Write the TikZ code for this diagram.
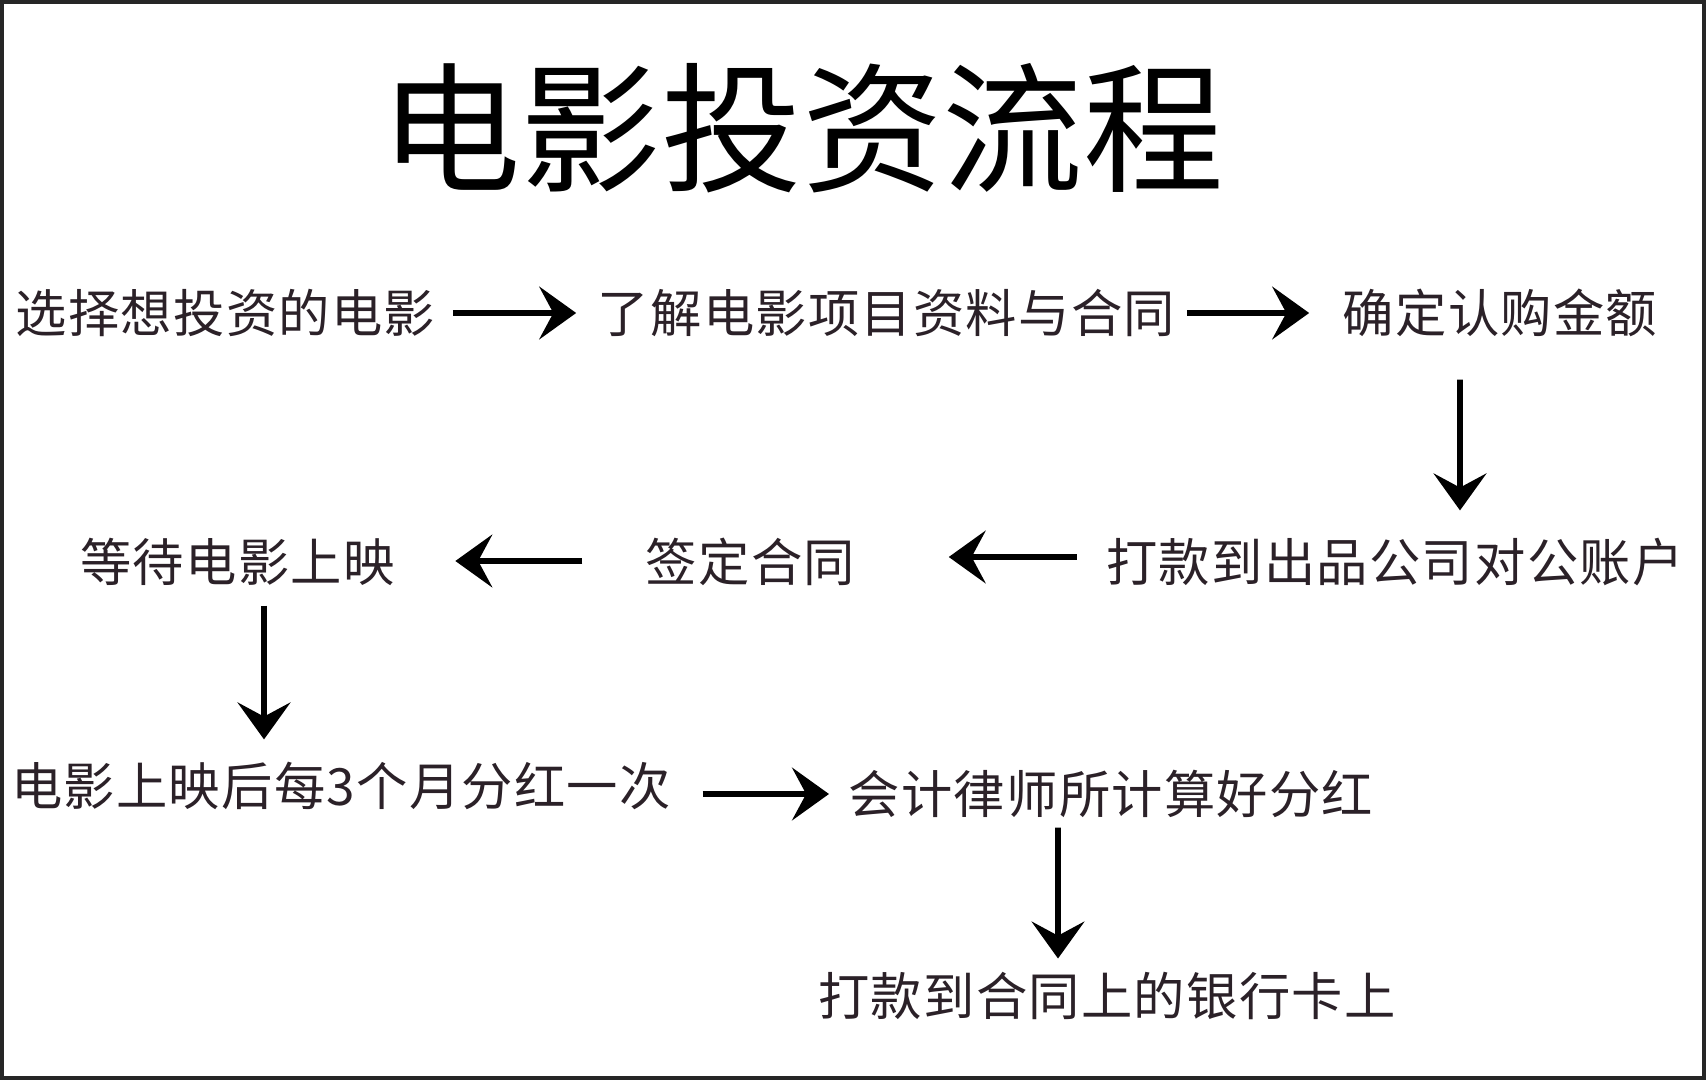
\documentclass[tikz,border=0pt]{standalone}
\usepackage{fontspec}
\newfontfamily\cjk{Noto Sans CJK SC}
\newfontfamily\cjkwide[LetterSpace=2.5]{Noto Sans CJK SC}
\usepackage{tikz}
\usetikzlibrary{positioning,arrows.meta,calc}

\definecolor{inkdark}{HTML}{2B2128}
\tikzset{
  stage/.style={inner sep=0pt, text=inkdark, font=\cjkwide\fontsize{14.6}{16}\selectfont},
  flow/.style={line width=1.6pt, -{Stealth[length=10.5pt,width=15pt,inset=4pt]}},
}

\begin{document}
\begin{tikzpicture}
  \useasboundingbox (0,0) rectangle (17.06,-10.80);
  \draw[line width=1.2pt, black!85] (0.02,-0.02) rectangle (17.04,-10.78);

  \node[inner sep=0pt, font=\cjk\fontsize{40}{43}\selectfont] (title) at (8.02,-1.28) {电影投资流程};

  % first row
  \node[stage] (pick) at (2.255,-3.13) {选择想投资的电影};
  \node[stage] (learn) at (8.865,-3.13) {了解电影项目资料与合同};
  \node[stage] (amount) at (15.00,-3.13) {确定认购金额};
  % second row, right to left
  \node[stage] (transfer) at (13.95,-5.62) {打款到出品公司对公账户};
  \node[stage] (sign) at (7.505,-5.62) {签定合同};
  \node[stage] (wait) at (2.375,-5.62) {等待电影上映};
  % third row
  \node[stage] (share) at (3.41,-7.86) {电影上映后每3个月分红一次};
  \node[stage] (calc) at (11.11,-7.94) {会计律师所计算好分红};
  \node[stage] (payout) at (11.07,-9.96) {打款到合同上的银行卡上};

  \draw[flow] ([xshift=0.17cm]pick.east) -- ([xshift=-0.21cm]learn.west);
  \draw[flow] ([xshift=0.11cm]learn.east) -- ([xshift=-0.33cm]amount.west);
  \draw[flow] ([xshift=-0.40cm,yshift=-0.42cm]amount.south) -- ([xshift=0.65cm,yshift=0.27cm]transfer.north);
  \draw[flow] ([xshift=-0.29cm,yshift=0.05cm]transfer.west) -- ([xshift=0.93cm,yshift=0.05cm]sign.east);
  \draw[flow] ([xshift=-0.63cm,yshift=0.01cm]sign.west) -- ([xshift=0.60cm,yshift=0.01cm]wait.east);
  \draw[flow] ([xshift=0.265cm,yshift=-0.19cm]wait.south) -- ([xshift=-0.77cm,yshift=0.22cm]share.north);
  \draw[flow] ([xshift=0.31cm]share.east |- calc.west) -- ([xshift=-0.19cm]calc.west);
  \draw[flow] ([xshift=-0.53cm,yshift=-0.09cm]calc.south) -- ([xshift=-0.49cm,yshift=0.13cm]payout.north);
\end{tikzpicture}
\end{document}
